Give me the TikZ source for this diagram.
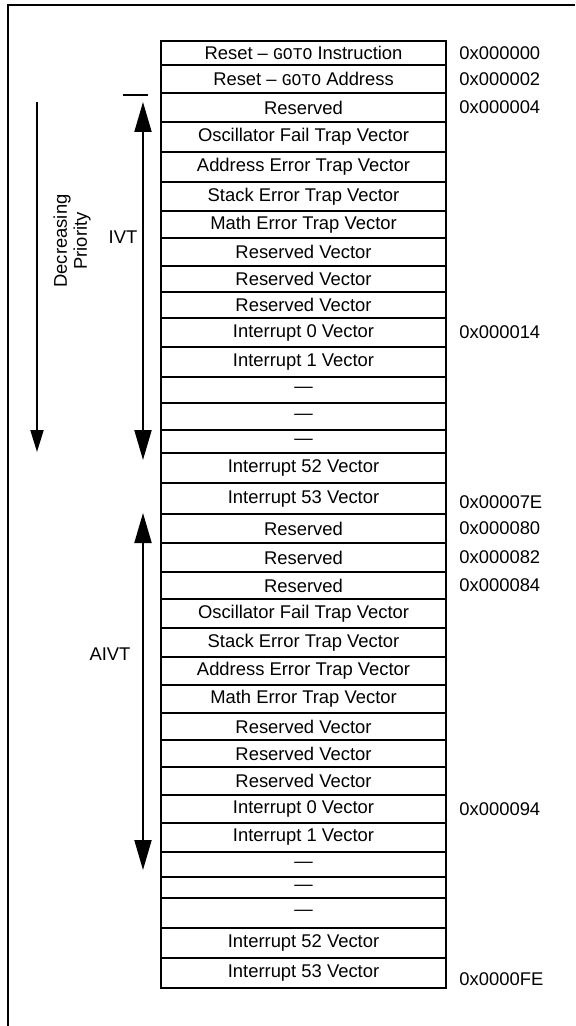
\documentclass[tikz,border=0pt]{standalone}
\usepackage{fontspec}
\setmainfont{Liberation Sans}
\setmonofont{Liberation Mono}
\usetikzlibrary{positioning,arrows.meta}
\newcommand{\gotokw}{{\ttfamily\fontsize{8.2}{9}\selectfont GOTO}}
\tikzset{
  cell/.style={draw, line width=1pt, minimum width=142.5pt, inner sep=0pt, font=\fontsize{9.2}{11}\selectfont},
  addr/.style={inner sep=0pt, font=\fontsize{9.2}{11}\selectfont},
  lbl/.style={inner sep=0pt, font=\fontsize{9.2}{10}\selectfont, align=center},
  bigtip/.style={line width=1pt, {Triangle[width=8.5pt,length=15pt]}-{Triangle[width=8.5pt,length=15pt]}},
}
\begin{document}
\begin{tikzpicture}[x=0.5pt,y=-0.5pt]
  \useasboundingbox (0,0) rectangle (575,1026);
  % frame
  \draw[line width=1.2pt] (575,5) -- (8,5) -- (8,1026);
  % vector table, one row per entry
  \foreach \ya/\yb/\txt [count=\i] in {
      41/65/{Reset -- \gotokw{} Instruction}, 65/93/{Reset -- \gotokw{} Address},
      93/122/Reserved, 122/152/Oscillator Fail Trap Vector,
      152/182/Address Error Trap Vector, 182/211/Stack Error Trap Vector,
      211/238/Math Error Trap Vector, 238/266/Reserved Vector,
      266/292/Reserved Vector, 292/318/Reserved Vector,
      318/347/Interrupt 0 Vector, 347/377/Interrupt 1 Vector,
      377/403/---, 403/430/---, 430/453/---,
      453/483/Interrupt 52 Vector, 483/514/Interrupt 53 Vector,
      514/543/Reserved, 543/572/Reserved, 572/599/Reserved,
      599/628/Oscillator Fail Trap Vector, 628/657/Stack Error Trap Vector,
      657/685/Address Error Trap Vector, 685/713/Math Error Trap Vector,
      713/740/Reserved Vector, 740/767/Reserved Vector, 767/795/Reserved Vector,
      795/823/Interrupt 0 Vector, 823/852/Interrupt 1 Vector,
      852/877/---, 877/898/---, 898/928/---,
      928/958/Interrupt 52 Vector, 958/988/Interrupt 53 Vector}{
    \pgfmathsetmacro{\h}{(\yb-\ya)*0.5}
    \pgfmathsetmacro{\ym}{(\ya+\yb)/2}
    \node[cell, minimum height=\h pt] (r\i) at (303.5,\ym) {\txt};
  }
  % addresses
  \node[addr, right=6pt of r1] (a1) {0x000000};
  \node[addr, right=6pt of r2] (a2) {0x000002};
  \node[addr, right=6pt of r3] (a3) {0x000004};
  \node[addr, right=6pt of r11] (a11) {0x000014};
  \node[addr, right=6pt of r17, yshift=-2pt] (a17) {0x00007E};
  \node[addr, right=6pt of r18] (a18) {0x000080};
  \node[addr, right=6pt of r19] (a19) {0x000082};
  \node[addr, right=6pt of r20] (a20) {0x000084};
  \node[addr, right=6pt of r28] (a28) {0x000094};
  \node[addr, right=6pt of r34, yshift=-3pt] (a34) {0x0000FE};
  % priority arrow
  \coordinate (dp top) at (37,102);
  \coordinate (dp end) at (37,452);
  \draw[line width=1pt, -{Triangle[width=6.5pt,length=11pt]}] (dp top) -- (dp end);
  \node[lbl, rotate=90] (dprio) at (72,241) {Decreasing\\Priority};
  % IVT span
  \coordinate (bar l) at (123,95);
  \coordinate (bar r) at (148,95);
  \draw[line width=1pt] (bar l) -- (bar r);
  \coordinate (ivt top) at (143,102);
  \coordinate (ivt bot) at (143,460);
  \draw[bigtip] (ivt top) -- (ivt bot);
  \node[lbl] (ivt) at (123,237) {IVT};
  % AIVT span
  \coordinate (aivt top) at (143,513);
  \coordinate (aivt bot) at (143,870);
  \draw[bigtip] (aivt top) -- (aivt bot);
  \node[lbl] (aivt) at (110,654) {AIVT};
\end{tikzpicture}
\end{document}
